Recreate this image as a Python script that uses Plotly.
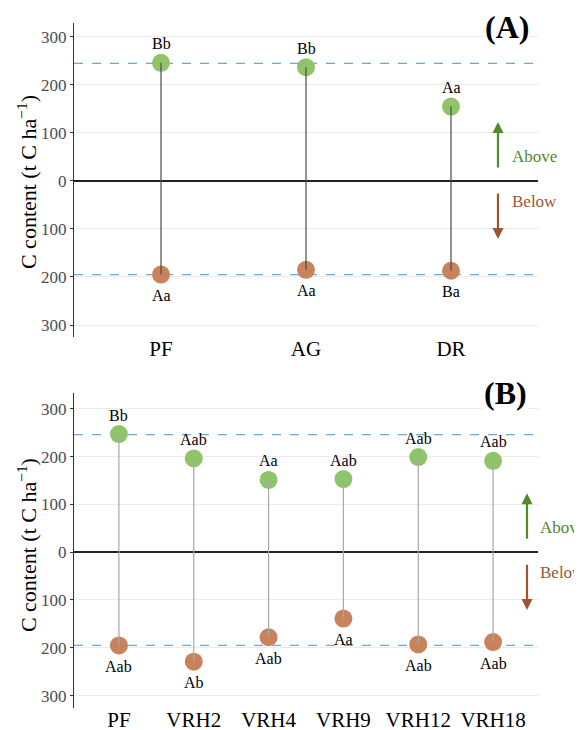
import plotly.graph_objects as go

# ---- data ----
top_cats = ["PF", "AG", "DR"]
top_above = [246, 237, 155]
top_below = [195, 185, 187]
top_above_lbl = ["Bb", "Bb", "Aa"]
top_below_lbl = ["Aa", "Aa", "Ba"]
top_ref = [245, 195]

bot_cats = ["PF", "VRH2", "VRH4", "VRH9", "VRH12", "VRH18"]
bot_above = [247, 196, 151, 153, 199, 191]
bot_below = [195, 229, 178, 139, 193, 188]
bot_above_lbl = ["Bb", "Aab", "Aa", "Aab", "Aab", "Aab"]
bot_below_lbl = ["Aab", "Ab", "Aab", "Aa", "Aab", "Aab"]
bot_ref = [246, 195]

y_ticks = [-300, -200, -100, 0, 100, 200, 300]

FONT = "Liberation Serif, Times New Roman, serif"
GREEN = "#8fc46a"
BROWN = "#c8835c"
ARROW_G = "#4f8a2b"
ARROW_B = "#9a5632"
DASH = "#6aa9d8"

fig = go.Figure()
anns = []


def add_panel(cats, above, below, alab, blab, ref, xa, ya, stem_color):
    xs = list(range(1, len(cats) + 1))
    neg = [-v for v in below]
    fig.add_trace(go.Scatter(
        x=xs, y=above, mode="markers", marker=dict(size=18, color=GREEN),
        xaxis=xa, yaxis=ya, showlegend=False, cliponaxis=False))
    fig.add_trace(go.Scatter(
        x=xs, y=neg, mode="markers", marker=dict(size=18, color=BROWN),
        xaxis=xa, yaxis=ya, showlegend=False, cliponaxis=False))
    sx, sy = [], []
    for x, a, b in zip(xs, above, neg):
        sx += [x, x, None]
        sy += [a, b, None]
    fig.add_trace(go.Scatter(x=sx, y=sy, mode="lines", line=dict(color=stem_color, width=1.2),
                             xaxis=xa, yaxis=ya, showlegend=False, hoverinfo="skip"))
    for r in (ref[0], -ref[1]):
        fig.add_shape(type="line", xref=xa + " domain", yref=ya, x0=0, x1=1, y0=r, y1=r,
                      line=dict(color=DASH, width=1.2, dash="dash"), layer="below")
    for x, a, t in zip(xs, above, alab):
        anns.append(dict(x=x, y=a, xref=xa, yref=ya, text=t, showarrow=False, yshift=19,
                         xanchor="center", yanchor="middle",
                         font=dict(family=FONT, size=16, color="black")))
    for x, b, t in zip(xs, neg, blab):
        anns.append(dict(x=x, y=b, xref=xa, yref=ya, text=t, showarrow=False, yshift=-21,
                         xanchor="center", yanchor="middle",
                         font=dict(family=FONT, size=16, color="black")))


add_panel(top_cats, top_above, top_below, top_above_lbl, top_below_lbl, top_ref, "x", "y", "#4a4a4a")
add_panel(bot_cats, bot_above, bot_below, bot_above_lbl, bot_below_lbl, bot_ref, "x2", "y2", "#a8a8a8")

yax = dict(tickvals=y_ticks, ticktext=[str(abs(v)) for v in y_ticks],
           tickfont=dict(family=FONT, size=17, color="#4d4d4d"),
           showgrid=True, gridcolor="#ebebeb", gridwidth=1,
           zeroline=True, zerolinecolor="#222222", zerolinewidth=1.6,
           showline=True, linecolor="#333333", linewidth=1,
           ticks="outside", ticklen=3, tickcolor="#333333", automargin=False)
xax = dict(showgrid=False, zeroline=False, showline=False, ticks="", automargin=False,
           ticklabelstandoff=-3,
           tickfont=dict(family=FONT, size=21, color="black"))

fig.update_layout(
    width=582, height=730,
    margin=dict(l=66, r=52, t=15, b=30),
    plot_bgcolor="white", paper_bgcolor="white",
    xaxis=dict(xax, domain=[0, 1], range=[0.4, 3.6], tickvals=[1, 2, 3], ticktext=top_cats, anchor="y"),
    yaxis=dict(yax, domain=[0.5416, 1], range=[-325, 329], anchor="x"),
    xaxis2=dict(xax, domain=[0, 1], range=[0.4, 6.6], tickvals=list(range(1, 7)), ticktext=bot_cats, anchor="y2"),
    yaxis2=dict(yax, domain=[0, 0.4599], range=[-326, 333], anchor="x2"),
)

title = "C content (t C ha<sup>−1</sup>)"
for yy in (0.768, 0.238):
    anns.append(dict(text=title, xref="paper", yref="paper", x=-0.101, y=yy, textangle=-90,
                     showarrow=False, xanchor="center", yanchor="middle",
                     font=dict(family=FONT, size=22, color="black")))
anns.append(dict(text="<b>(A)</b>", xref="paper", yref="paper", x=0.933, y=0.994, showarrow=False,
                 xanchor="center", yanchor="middle", bgcolor="white",
                 font=dict(family=FONT, size=32, color="black")))
anns.append(dict(text="<b>(B)</b>", xref="paper", yref="paper", x=0.931, y=0.46, showarrow=False,
                 xanchor="center", yanchor="middle", bgcolor="white",
                 font=dict(family=FONT, size=32, color="black")))

for xa, ya, ax_x, tx in (("x", "y", 3.324, 3.407), ("x2", "y2", 6.453, 6.6)):
    anns.append(dict(x=ax_x, y=123, ax=ax_x, ay=25, xref=xa, yref=ya, axref=xa, ayref=ya,
                     text="", showarrow=True, arrowhead=2, arrowsize=1, arrowwidth=2.2,
                     arrowcolor=ARROW_G))
    anns.append(dict(x=ax_x, y=-121, ax=ax_x, ay=-23, xref=xa, yref=ya, axref=xa, ayref=ya,
                     text="", showarrow=True, arrowhead=2, arrowsize=1, arrowwidth=2.2,
                     arrowcolor=ARROW_B))
    anns.append(dict(x=tx, y=51, xref=xa, yref=ya, text="Above", showarrow=False,
                     xanchor="left", yanchor="middle", font=dict(family=FONT, size=17, color=ARROW_G)))
    anns.append(dict(x=tx, y=-42, xref=xa, yref=ya, text="Below", showarrow=False,
                     xanchor="left", yanchor="middle", font=dict(family=FONT, size=17, color=ARROW_B)))

fig.update_layout(annotations=anns)
fig.write_html("out.html")
